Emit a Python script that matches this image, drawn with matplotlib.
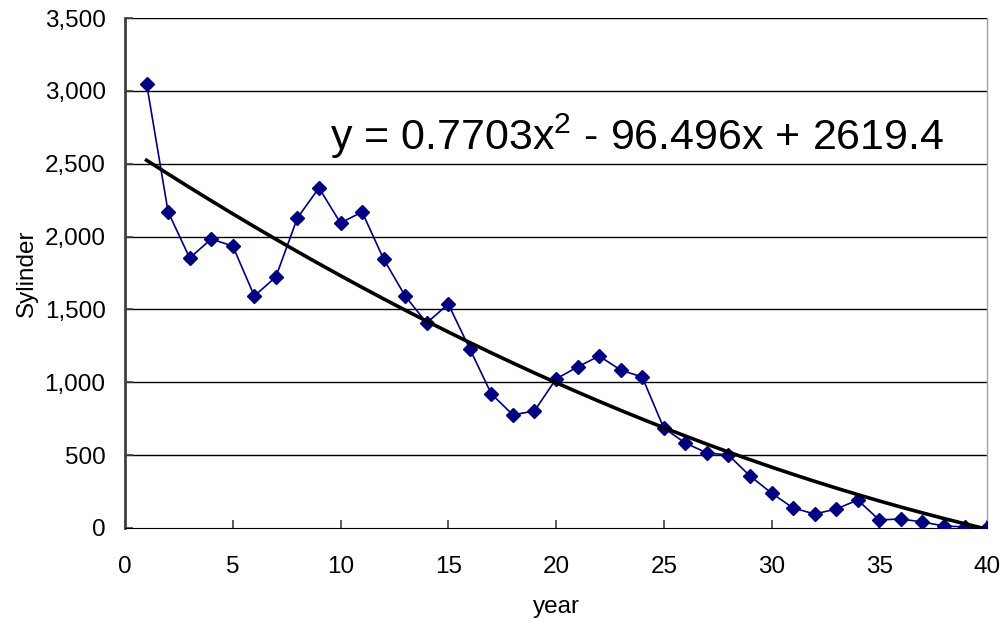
import matplotlib
matplotlib.use("Agg")
import matplotlib.pyplot as plt
import numpy as np
from matplotlib.ticker import FuncFormatter

plt.rcParams['font.family'] = ['Liberation Sans', 'DejaVu Sans']
plt.rcParams['mathtext.fontset'] = 'custom'
plt.rcParams['mathtext.rm'] = 'Liberation Sans'
plt.rcParams['mathtext.it'] = 'Liberation Sans'

# yearly cylinder counts
years = list(range(1, 41))
cylinders = [3050, 2169, 1853, 1983, 1935, 1592, 1723, 2128, 2334, 2093,
             2169, 1846, 1592, 1407, 1537, 1229, 920, 776, 803, 1023,
             1105, 1180, 1084, 1036, 686, 583, 515, 501, 357, 240,
             137, 96, 130, 192, 55, 62, 41, 14, 7, 0]

# second order polynomial trend
trend_coef = [0.7703, -96.496, 2619.4]

fig = plt.figure(figsize=(10.05, 6.21), dpi=100)
ax = fig.add_axes([0.1244, 0.1498, 0.8577, 0.8212])

for yv in range(500, 3501, 500):
    ax.axhline(yv, color='black', lw=1.0, zorder=1)

ax.plot(years, cylinders, color='#000080', lw=1.2, marker='D',
        markersize=7.5, zorder=3)

xt = np.array(years, dtype=float)
ax.plot(xt, np.polyval(trend_coef, xt), color='black', lw=2.6, zorder=4)

fig.text(0.328, 1 - 150 / 621,
         'y = 0.7703x$^{\\mathrm{2}}$ - 96.496x + 2619.4',
         fontsize=31, va='baseline', ha='left')

ax.set_xlim(0, 40)
ax.set_ylim(0, 3500)
ax.set_xticks(range(0, 41, 5))
ax.set_yticks(range(0, 3501, 500))
ax.yaxis.set_major_formatter(FuncFormatter(lambda v, p: f'{int(v):,}'))
ax.tick_params(axis='both', labelsize=17.5, direction='in', length=6,
               width=1.2, color='#404040')
ax.tick_params(axis='x', pad=20)
ax.tick_params(axis='y', pad=14)

ax.spines['top'].set_visible(False)
ax.spines['bottom'].set_color('black')
ax.spines['left'].set_color('#404040')
ax.spines['left'].set_linewidth(2)
ax.spines['right'].set_color('#a0a0a0')
ax.spines['right'].set_linewidth(1)

ax.set_xlabel('year', fontsize=17.5, labelpad=13)
ax.set_ylabel('Sylinder', fontsize=17.5, labelpad=5)

fig.savefig('out.png', dpi=100)
